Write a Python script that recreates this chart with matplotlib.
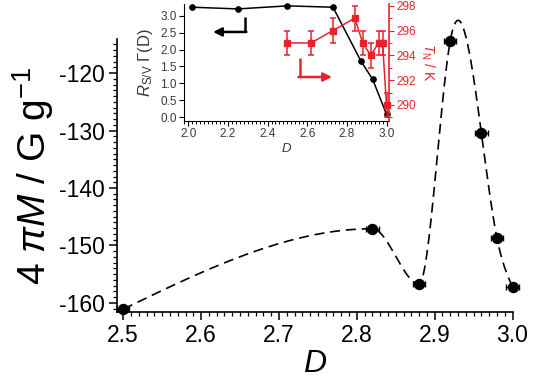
import numpy as np
import matplotlib
matplotlib.use("Agg")
import matplotlib.pyplot as plt
from matplotlib.ticker import MultipleLocator

plt.rcParams['font.family'] = ['Liberation Sans', 'DejaVu Sans']
plt.rcParams['mathtext.fontset'] = 'custom'
plt.rcParams['mathtext.rm'] = 'Liberation Sans'
plt.rcParams['mathtext.it'] = 'Liberation Sans:italic'
plt.rcParams['mathtext.bf'] = 'Liberation Sans:bold'

# ---- main data ----
D_main = [2.50, 2.82, 2.88, 2.92, 2.96, 2.98, 3.00]
M_main = [-161.1, -147.1, -156.7, -114.4, -130.4, -148.7, -157.2]
D_err = [0.008, 0.008, 0.008, 0.008, 0.008, 0.008, 0.008]

# ---- inset data ----
D_R = [2.02, 2.25, 2.50, 2.73, 2.87, 2.93, 3.00]
R_SV = [3.25, 3.20, 3.29, 3.25, 1.67, 1.12, 0.09]
D_T = [2.50, 2.62, 2.73, 2.84, 2.88, 2.92, 2.96, 2.98, 3.00]
T_N = [295, 295, 296, 297, 295, 294, 295, 295, 290]
T_err = [1, 1, 1, 1, 1, 1, 1, 1, 1]

RED = '#e8222a'
GRAY = '#3a3a3a'


def spline(x, y, xs, left=None, right=None):
    """Cubic spline; left/right = clamped first derivative or None (natural)."""
    x = np.asarray(x, float); y = np.asarray(y, float)
    n = len(x); h = np.diff(x)
    A = np.zeros((n, n)); b = np.zeros(n)
    if left is None:
        A[0, 0] = 1
    else:
        A[0, 0] = 2 * h[0]; A[0, 1] = h[0]
        b[0] = 6 * ((y[1] - y[0]) / h[0] - left)
    if right is None:
        A[-1, -1] = 1
    else:
        A[-1, -2] = h[-1]; A[-1, -1] = 2 * h[-1]
        b[-1] = 6 * (right - (y[-1] - y[-2]) / h[-1])
    for i in range(1, n - 1):
        A[i, i - 1] = h[i - 1]; A[i, i] = 2 * (h[i - 1] + h[i]); A[i, i + 1] = h[i]
        b[i] = 6 * ((y[i + 1] - y[i]) / h[i] - (y[i] - y[i - 1]) / h[i - 1])
    M = np.linalg.solve(A, b)
    out = np.empty_like(xs)
    for k, xv in enumerate(xs):
        i = min(max(np.searchsorted(x, xv) - 1, 0), n - 2)
        a = (x[i + 1] - xv) / h[i]; bb = (xv - x[i]) / h[i]
        out[k] = (a * y[i] + bb * y[i + 1]
                  + ((a ** 3 - a) * M[i] + (bb ** 3 - bb) * M[i + 1]) * h[i] ** 2 / 6)
    return out


def guide(x, y, joins):
    """Piecewise splines joined with zero slope at the given knot indices."""
    cuts = [0] + list(joins) + [len(x) - 1]
    gx, gy = [], []
    for a, b in zip(cuts[:-1], cuts[1:]):
        xs = np.linspace(x[a], x[b], 400)
        gx.append(xs)
        gy.append(spline(x[a:b + 1], y[a:b + 1], xs,
                         left=None if a == 0 else 0.0,
                         right=None if b == len(x) - 1 else 0.0))
    return np.concatenate(gx), np.concatenate(gy)


fig = plt.figure(figsize=(5.37, 3.84), dpi=100)
ax = fig.add_axes([0.2179, 0.1875, 0.9544 - 0.2179, 0.8977 - 0.1875])

gx, gy = guide(D_main, M_main, joins=[1, 2])
ax.plot(gx, gy, color='black', lw=1.2, ls=(0, (6, 3.5)), clip_on=False, zorder=2)
ax.errorbar(D_main, M_main, xerr=D_err, fmt='o', color='black', ms=7.2,
            elinewidth=1, capsize=2, capthick=1, clip_on=False, zorder=3)

ax.set_xlim(2.492, 3.0)
ax.set_ylim(-161.6, -114.1)
ax.xaxis.set_minor_locator(MultipleLocator(0.01))
ax.yaxis.set_minor_locator(MultipleLocator(1))
ax.set_xticks([2.5, 2.6, 2.7, 2.8, 2.9, 3.0])
ax.set_xticklabels(['2.5', '2.6', '2.7', '2.8', '2.9', '3.0'])
ax.set_yticks([-160, -150, -140, -130, -120])
ax.set_yticklabels(['-160', '-150', '-140', '-130', '-120'])
for s in ['top', 'right']:
    ax.spines[s].set_visible(False)
for s in ['left', 'bottom']:
    ax.spines[s].set_linewidth(1.2)
ax.tick_params(which='major', direction='out', length=6, width=1.1,
               labelsize=16.5, pad=3)
ax.tick_params(which='minor', direction='out', length=3, width=0.9)
ax.set_xlabel('$\\mathit{D}$', fontsize=23, labelpad=1)
ax.set_ylabel('$\\mathit{4\\ \\pi M}$ / G g$^{-1}$', fontsize=28, labelpad=2)

# ---- inset ----
l, r, b, t = 184.3 / 537, 388.7 / 537, 1 - 120.7 / 384, 1 - 4 / 384
ins = fig.add_axes([l, b, r - l, t - b])
ins.plot(D_R, R_SV, '-o', color='black', ms=3.8, lw=1.1, clip_on=False, zorder=3)
ins.set_xlim(1.98, 3.011)
ins.set_ylim(-0.10, 3.345)
ins.spines['top'].set_visible(False)
ins.spines['right'].set_visible(False)
ins.xaxis.set_minor_locator(MultipleLocator(0.02))
ins.set_xticks([2.0, 2.2, 2.4, 2.6, 2.8, 3.0])
ins.set_xticklabels(['2.0', '2.2', '2.4', '2.6', '2.8', '3.0'])
ins.set_yticks([0.0, 0.5, 1.0, 1.5, 2.0, 2.5, 3.0])
ins.set_yticklabels(['0.0', '0.5', '1.0', '1.5', '2.0', '2.5', '3.0'])
ins.tick_params(which='major', direction='out', length=3.5, width=0.8,
                labelsize=8.5, colors='black', labelcolor=GRAY, pad=2)
ins.tick_params(which='minor', direction='out', length=2, width=0.7)
ins.set_xlabel('$\\mathit{D}$', fontsize=9.5, color=GRAY, labelpad=1)
ins.set_ylabel('$\\mathit{R}_{\\mathrm{S/V}}\\ \\mathit{\\Gamma}$(D)', fontsize=12,
               color=GRAY, labelpad=4)

ins2 = ins.twinx()
ins2.errorbar(D_T, T_N, yerr=T_err, fmt='-s', color=RED, ms=4.5, lw=1.1,
              elinewidth=1.1, capsize=2.5, capthick=1.1, clip_on=False, zorder=3)
ins2.set_ylim(288.73, 298.14)
ins2.spines['top'].set_visible(False)
ins2.spines['left'].set_visible(False)
ins2.spines['bottom'].set_visible(False)
ins2.spines['right'].set_color(RED)
ins2.spines['right'].set_linewidth(1.2)
ins2.yaxis.set_minor_locator(MultipleLocator(1))
ins2.set_yticks([290, 292, 294, 296, 298])
ins2.set_yticklabels(['290', '292', '294', '296', '298'])
ins2.tick_params(which='major', direction='out', length=3.5, width=0.8,
                 colors=RED, labelsize=8.5, pad=2)
ins2.tick_params(which='minor', direction='out', length=2, width=0.7, colors=RED)
ins2.set_ylabel('$\\mathit{T}_{\\mathrm{N}}$ / K', fontsize=10, color=RED,
                rotation=270, labelpad=15)

# L-shaped arrows
ins.plot([2.286, 2.286], [2.96, 2.52], color='black', lw=1.8, solid_capstyle='butt')
ins.annotate('', xy=(2.125, 2.52), xytext=(2.293, 2.52),
             arrowprops=dict(arrowstyle='-|>,head_length=0.5,head_width=0.25',
                             color='black', lw=1.8, shrinkA=0, shrinkB=0))
ins.plot([2.563, 2.563], [1.75, 1.19], color=RED, lw=1.8, solid_capstyle='butt')
ins.annotate('', xy=(2.725, 1.19), xytext=(2.556, 1.19),
             arrowprops=dict(arrowstyle='-|>,head_length=0.5,head_width=0.25',
                             color=RED, lw=1.8, shrinkA=0, shrinkB=0))

fig.savefig('out.png', dpi=100)
